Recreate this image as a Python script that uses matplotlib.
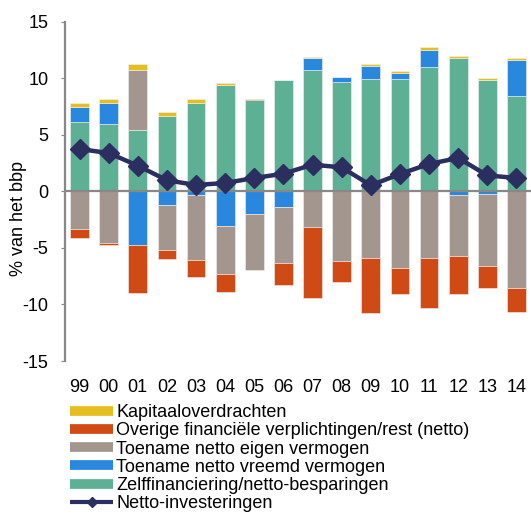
import matplotlib.pyplot as plt
import numpy as np
from matplotlib.lines import Line2D

plt.rcParams['font.family'] = ['Liberation Sans', 'DejaVu Sans']
plt.rcParams['axes.unicode_minus'] = False

years = ["99", "00", "01", "02", "03", "04", "05", "06",
         "07", "08", "09", "10", "11", "12", "13", "14"]

# % van het bbp
zelffinanciering = [6.15, 5.97, 5.45, 6.70, 7.83, 9.44, 8.12, 9.86,
                    10.71, 9.66, 9.97, 9.95, 11.00, 11.77, 9.88, 8.47]
vreemd_vermogen = [1.35, 1.85, -4.72, -1.19, -0.28, -3.10, -2.02, -1.34,
                   1.06, 0.41, 1.09, 0.47, 1.53, -0.34, -0.20, 3.18]
eigen_vermogen = [-3.31, -4.55, 5.27, -3.97, -5.80, -4.20, -4.94, -5.03,
                  -3.17, -6.13, -5.93, -6.78, -5.87, -5.41, -6.38, -8.55]
overige = [-0.79, -0.20, -4.27, -0.83, -1.47, -1.56, 0.05, -1.88,
           -6.30, -1.89, -4.80, -2.32, -4.44, -3.30, -2.00, -2.12]
kapitaaloverdrachten = [0.35, 0.35, 0.56, 0.33, 0.30, 0.18, 0.0, 0.0,
                        0.10, 0.06, 0.20, 0.20, 0.24, 0.20, 0.15, 0.15]
netto_investeringen = [3.74, 3.39, 2.27, 0.98, 0.56, 0.74, 1.18, 1.56,
                       2.36, 2.12, 0.53, 1.53, 2.42, 2.95, 1.41, 1.18]

series = [
    ("Zelffinanciering/netto-besparingen", zelffinanciering, "#5eb094"),
    ("Toename netto vreemd vermogen", vreemd_vermogen, "#2988dd"),
    ("Toename netto eigen vermogen", eigen_vermogen, "#a3968f"),
    ("Overige financiële verplichtingen/rest (netto)", overige, "#cf4a14"),
    ("Kapitaaloverdrachten", kapitaaloverdrachten, "#e5be20"),
]

fig = plt.figure(figsize=(5.31, 5.16), dpi=100)
ax = fig.add_axes([65 / 531, 1 - 361 / 516, 1 - 65 / 531, (361 - 21.7) / 516])

x = np.arange(len(years))
pos_bottom = np.zeros(len(years))
neg_bottom = np.zeros(len(years))

# stack positives upward and negatives downward from zero
for label, vals, color in series:
    vals = np.array(vals)
    bottoms = np.where(vals >= 0, pos_bottom, neg_bottom)
    ax.bar(x, vals, bottom=bottoms, width=0.64, color=color,
           edgecolor="#f2f2f2", linewidth=0.4, zorder=2)
    pos_bottom += np.where(vals >= 0, vals, 0)
    neg_bottom += np.where(vals < 0, vals, 0)

ax.axhline(0, color="#888888", linewidth=1.6, zorder=3)

ax.plot(x, netto_investeringen, color="#2b2f60", linewidth=3.2,
        marker="D", markersize=10, zorder=4)

ax.set_xlim(-0.5, len(years) - 0.5)
ax.set_ylim(-15, 15)
ax.set_yticks([-15, -10, -5, 0, 5, 10, 15])
ax.set_xticks(x)
ax.set_xticklabels(years)
ax.tick_params(axis="x", length=0, pad=13, labelsize=13)
ax.tick_params(axis="y", length=3, color="#888888", labelsize=13, pad=9)
ax.set_ylabel("% van het bbp", fontsize=13)
ax.yaxis.set_label_coords((27 - 65) / 466, 0.42)

for side in ["top", "right", "bottom"]:
    ax.spines[side].set_visible(False)
ax.spines["left"].set_color("#888888")
ax.spines["left"].set_linewidth(1.6)

# legend in the same order as the reference
handles = []
labels = []
for label, vals, color in reversed(series):
    handles.append(Line2D([0], [0], color=color, linewidth=7,
                          solid_capstyle="butt"))
    labels.append(label)
handles.append(Line2D([0], [0], color="#2b2f60", linewidth=3,
                      marker="D", markersize=5, solid_capstyle="butt"))
labels.append("Netto-investeringen")

fig.legend(handles, labels, loc="upper left",
           bbox_to_anchor=(70 / 531, 1 - 404 / 516),
           frameon=False, fontsize=13, handlelength=2.4,
           handletextpad=0.15, labelspacing=0.07, borderpad=0,
           borderaxespad=0)

fig.savefig("out.png", dpi=100)
